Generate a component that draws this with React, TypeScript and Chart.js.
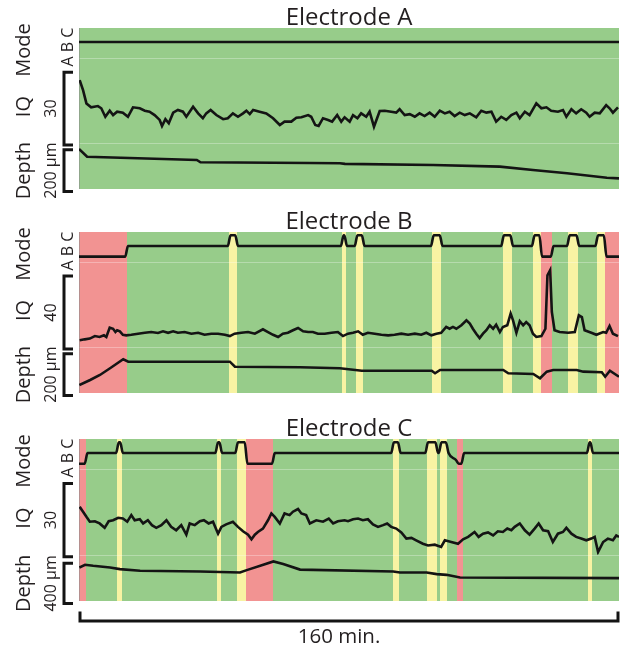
import React, { useEffect, useRef } from 'react';
import { Chart, registerables } from 'chart.js';

Chart.register(...registerables);

// ---------- data ----------
const TOTAL_MINUTES = 160;
const TIME_BAR_LABEL = '160 min.';
const TITLES = ['Electrode A', 'Electrode B', 'Electrode C'];
const TRACK_LABELS = ['Mode', 'IQ', 'Depth'];
const MODE_TICK_LABEL = 'A B C';
const MODE_LEVELS: Record<string, number> = { A: 0, B: 1, C: 2 };
const IQ_SCALE_BARS = [30, 40, 30];
const DEPTH_SCALE_BARS = [200, 200, 400];
const IQ_AXIS_MAX = [35, 46.6, 35];
const DEPTH_AXIS_MAX = [220, 220, 460];

// [start min, end min, mode, optional level at segment end]
const modeSegmentsA: [number, number, string, number?][] = [[0, 160, 'B']];
const modeSegmentsB: [number, number, string, number?][] = [
  [0, 14.1, 'A'], [14.1, 44.5, 'B'], [44.5, 46.7, 'C'], [46.7, 78.0, 'B'], [78.0, 79.0, 'C'],
  [79.0, 82.1, 'B'], [82.1, 84.2, 'C'], [84.2, 104.7, 'B'], [104.7, 107.3, 'C'], [107.3, 125.5, 'B'],
  [125.5, 128.2, 'C'], [128.2, 134.6, 'B'], [134.6, 136.8, 'C'], [136.8, 140.2, 'A'], [140.2, 145.0, 'B'],
  [145.0, 147.8, 'C'], [147.8, 153.4, 'B'], [153.4, 155.9, 'C'], [155.9, 160, 'A'],
];
const modeSegmentsC: [number, number, string, number?][] = [
  [0, 2.1, 'A'], [2.1, 11.4, 'B'], [11.4, 12.6, 'C'], [12.6, 40.8, 'B'], [40.8, 42.0, 'C'],
  [42.0, 46.7, 'B'], [46.7, 49.5, 'C'], [49.5, 57.6, 'A'], [57.6, 92.9, 'B'], [92.9, 94.9, 'C'],
  [94.9, 103.0, 'B'], [103.0, 106.0, 'C'], [106.0, 107.0, 'B'], [107.0, 109.1, 'C'], [109.1, 112.1, 'B', 0.35],
  [112.1, 113.7, 'A'], [113.7, 150.9, 'B'], [150.9, 151.9, 'C'], [151.9, 160, 'B'],
];

// IQ: [minute, value]
const iqA: [number, number][] = [
  [0.2, 25.9], [1.2, 21.8], [2.2, 16.3], [3.6, 14.7], [5.6, 15.2], [6.6, 14.3], [7.8, 10.8], [9.1, 13.3], [10.1, 11.5],
  [11.3, 12.9], [13.0, 12.5], [14.5, 10.8], [16.0, 14.7], [18.0, 14.3], [19.5, 13.3], [20.9, 12.9], [22.4, 11.5],
  [23.9, 9.5], [24.6, 7.0], [25.6, 9.8], [26.6, 8.1], [27.9, 12.5], [29.3, 13.6], [30.8, 12.9], [31.8, 10.8],
  [33.8, 14.9], [35.3, 12.2], [36.7, 10.2], [37.7, 12.2], [39.0, 13.6], [40.7, 11.5], [42.7, 9.8], [44.1, 10.2],
  [45.6, 12.2], [47.1, 10.8], [48.6, 12.2], [49.6, 13.3], [50.6, 11.9], [51.6, 13.6], [53.5, 12.9], [55.5, 12.2],
  [57.5, 10.2], [59.5, 7.4], [60.9, 8.8], [62.9, 8.8], [64.4, 10.4], [65.9, 10.6], [67.9, 11.5], [68.8, 10.8],
  [70.0, 7.4], [71.0, 7.0], [72.3, 10.2], [73.8, 9.5], [75.0, 8.8], [76.5, 11.5], [77.7, 8.8], [78.7, 10.6],
  [80.2, 8.8], [81.2, 11.5], [82.5, 10.2], [83.6, 12.2], [85.1, 10.8], [86.1, 12.9], [87.4, 6.7], [89.1, 13.2],
  [90.6, 13.3], [92.5, 12.9], [94.0, 12.5], [95.0, 13.9], [96.5, 11.5], [98.0, 11.9], [99.5, 10.8], [100.9, 12.2],
  [102.4, 11.1], [103.9, 12.5], [105.4, 10.8], [106.9, 13.3], [108.4, 12.2], [109.8, 12.9], [111.3, 11.1],
  [112.8, 12.5], [114.3, 11.5], [115.8, 12.2], [117.7, 10.6], [119.2, 13.3], [120.7, 12.5], [122.2, 12.9],
  [123.6, 8.8], [125.1, 10.8], [126.6, 9.5], [128.1, 11.5], [129.6, 12.5], [130.6, 10.2], [132.1, 12.9],
  [133.5, 11.5], [135.5, 16.3], [137.0, 14.3], [138.5, 14.7], [139.9, 13.3], [141.9, 12.9], [143.4, 13.6],
  [144.4, 10.8], [145.9, 13.9], [147.3, 12.2], [148.8, 13.9], [150.3, 12.5], [151.3, 10.8], [152.8, 12.5],
  [154.3, 12.2], [156.2, 15.6], [157.2, 14.3], [158.2, 12.5], [159.7, 14.7],
];
const iqB: [number, number][] = [
  [0.2, 3.7], [1.7, 4.2], [3.2, 4.6], [4.7, 6.0], [6.1, 5.5], [7.4, 6.4], [8.1, 5.5], [9.1, 10.6], [10.1, 10.0],
  [10.8, 8.2], [11.3, 9.2], [12.1, 8.6], [13.0, 6.7], [14.0, 6.4], [15.5, 6.7], [17.5, 7.3], [19.5, 7.8], [21.4, 8.2],
  [23.4, 7.7], [24.9, 8.6], [26.4, 7.8], [27.9, 8.6], [29.3, 7.8], [31.3, 8.2], [33.3, 7.3], [35.3, 7.8], [37.2, 6.7],
  [39.2, 7.3], [41.2, 7.3], [43.2, 6.7], [44.7, 6.0], [46.1, 7.3], [48.1, 7.8], [50.1, 8.2], [52.1, 7.3], [54.5, 9.7],
  [56.0, 8.2], [57.5, 6.7], [59.0, 5.5], [60.4, 7.3], [61.9, 7.8], [63.4, 9.2], [64.9, 10.4], [66.4, 8.6], [67.9, 8.2],
  [69.3, 8.2], [70.8, 7.3], [72.8, 7.3], [74.8, 7.8], [76.7, 8.2], [78.2, 6.0], [79.7, 7.3], [81.2, 7.8], [82.7, 8.6],
  [84.1, 6.7], [85.6, 7.8], [87.6, 7.3], [89.6, 6.7], [91.6, 6.4], [93.5, 6.7], [95.5, 7.3], [97.5, 6.7], [99.5, 7.3],
  [101.4, 6.7], [102.9, 7.8], [104.4, 6.4], [105.9, 7.3], [107.3, 7.8], [108.8, 11.0], [109.8, 10.0], [110.8, 11.0],
  [111.8, 10.0], [113.3, 11.9], [114.8, 14.6], [115.8, 12.8], [116.7, 10.0], [117.7, 7.3], [118.7, 4.9], [119.7, 7.3],
  [120.7, 9.2], [121.7, 11.9], [122.7, 10.0], [123.6, 12.2], [124.7, 8.2], [125.6, 11.0], [126.9, 11.9], [127.9, 18.3],
  [128.6, 14.6], [129.6, 7.8], [130.6, 14.1], [131.6, 11.9], [132.5, 13.7], [133.5, 11.9], [134.5, 7.3], [135.5, 5.5],
  [137.0, 6.0], [138.2, 10.0], [138.8, 39.3], [139.6, 42.1], [140.1, 19.2], [140.9, 9.2], [142.4, 8.2], [144.9, 7.8],
  [146.9, 8.2], [148.1, 17.4], [149.0, 16.4], [149.8, 9.2], [151.8, 7.8], [153.3, 6.7], [155.3, 8.2], [156.2, 7.8],
  [157.2, 11.5], [158.2, 7.3], [159.7, 6.0],
];
const iqC: [number, number][] = [
  [0.2, 19.6], [1.2, 17.6], [2.2, 15.5], [3.2, 13.5], [4.7, 13.7], [6.1, 12.8], [7.6, 11.0], [8.8, 13.7], [10.1, 14.1],
  [11.6, 15.1], [13.0, 14.8], [14.3, 13.5], [15.5, 16.2], [16.5, 14.1], [18.0, 14.5], [19.0, 12.8], [20.4, 14.1],
  [21.6, 12.1], [22.9, 11.0], [24.4, 12.1], [25.9, 14.1], [27.3, 11.4], [28.8, 10.0], [30.3, 12.1], [31.8, 8.2],
  [32.8, 12.8], [34.3, 12.1], [35.8, 13.7], [37.0, 14.1], [38.4, 12.8], [39.7, 13.5], [41.2, 8.6], [42.2, 11.4],
  [43.6, 12.4], [45.6, 13.5], [47.1, 11.4], [48.6, 9.6], [50.1, 8.2], [51.1, 6.3], [52.1, 8.2], [53.0, 9.3],
  [54.5, 10.7], [56.0, 14.1], [57.0, 16.9], [58.0, 15.5], [59.5, 12.8], [60.9, 16.9], [62.4, 16.2], [63.4, 17.6],
  [64.9, 18.7], [65.9, 16.9], [67.3, 16.2], [68.4, 12.8], [70.3, 14.1], [72.3, 13.5], [74.0, 14.8], [75.3, 12.8],
  [76.7, 13.7], [78.7, 14.1], [79.7, 13.7], [81.2, 14.5], [82.7, 14.8], [84.1, 14.1], [85.6, 14.5], [87.1, 12.4],
  [88.6, 11.4], [90.1, 12.1], [91.3, 12.8], [92.5, 11.4], [94.0, 10.7], [95.5, 9.1], [97.0, 6.6], [98.5, 6.9],
  [99.9, 5.9], [101.9, 4.5], [103.4, 3.8], [105.4, 4.1], [107.3, 3.2], [108.4, 5.9], [110.3, 5.2], [112.3, 4.5],
  [113.8, 6.3], [115.3, 7.3], [117.2, 9.3], [118.4, 7.3], [119.7, 8.6], [121.2, 9.1], [122.7, 7.9], [124.1, 9.6],
  [125.6, 9.3], [126.9, 10.7], [128.1, 10.0], [129.1, 11.4], [130.6, 12.8], [132.1, 10.0], [133.5, 8.2], [135.0, 10.7],
  [136.2, 12.8], [137.5, 10.0], [139.0, 9.6], [140.4, 5.2], [141.9, 8.6], [143.4, 9.3], [144.4, 11.0], [145.9, 8.6],
  [147.3, 7.3], [148.8, 6.6], [150.3, 5.9], [151.8, 6.6], [152.8, 7.3], [153.8, 1.1], [155.3, 5.2], [156.7, 6.6],
  [158.2, 5.9], [159.2, 7.9], [160, 7.3],
];

// Depth (µm): [minute, value]
const depthA: [number, number][] = [
  [0, 28.7], [2.4, 65.5], [34.9, 81.3], [36.0, 92.3], [68.4, 95.6], [77.3, 97], [78.8, 100], [104.9, 105],
  [124.7, 113], [134.5, 129], [144.6, 145], [156.4, 166], [160, 169],
];
const depthB: [number, number][] = [
  [0.1, 181.6], [3.3, 157.7], [6.2, 133.8], [9.2, 101.8], [13.1, 58.8], [14.6, 70.3], [44.7, 70.3], [46.2, 94.2],
  [65.5, 97], [77.3, 101.8], [83.8, 113.3], [104.5, 113.3], [105.5, 125.7], [107.0, 110], [125.7, 110],
  [127.2, 125.7], [134.6, 129], [136.6, 149.6], [138.6, 118], [140.5, 110], [147.5, 110], [149.4, 118],
  [154.9, 121], [155.9, 142], [157.3, 113.3], [160, 142],
];
const depthC: [number, number][] = [
  [0.1, 127], [1.8, 100], [4.2, 110], [9.2, 127], [12.1, 143], [18.1, 160], [35.9, 167], [47.7, 177], [49.7, 153],
  [54.6, 100], [57.6, 67], [60.5, 93], [65.5, 148], [93.1, 167], [95.1, 177], [103.0, 177], [106.0, 193],
  [108.9, 200], [112.9, 227], [160, 233],
];

// ---------- styles ----------
const BAND_COLORS: Record<string, string> = { A: '#f29392', B: '#97cc8a', C: '#f8f3a3' };
const LINE = '#141414';
const TEXT = '#231f20';
const FONT = '"Open Sans", "Noto Sans", sans-serif';

type Seg = [number, number, string, number?];

function modeLine(segs: Seg[]) {
  const d = 0.4;
  const pts: { x: number; y: number }[] = [];
  segs.forEach((seg, i) => {
    const [s, e, m, endLv] = seg;
    const lv = MODE_LEVELS[m];
    pts.push({ x: i === 0 ? s : s + d, y: lv });
    pts.push({ x: i === segs.length - 1 ? e : e - d, y: endLv ?? lv });
  });
  return pts;
}

const toXY = (arr: [number, number][]) => arr.map(([x, y]) => ({ x, y }));

interface PanelDef {
  idx: number;
  top: number;
  height: number;
  padTop: number;
  padBottom: number;
  segs: Seg[];
  iq: [number, number][];
  depth: [number, number][];
  timeBar: boolean;
}

const PANELS: PanelDef[] = [
  { idx: 0, top: 0, height: 202, padTop: 28, padBottom: 13, segs: modeSegmentsA, iq: iqA, depth: depthA, timeBar: false },
  { idx: 1, top: 202, height: 208, padTop: 30, padBottom: 17, segs: modeSegmentsB, iq: iqB, depth: depthB, timeBar: false },
  { idx: 2, top: 410, height: 240, padTop: 29, padBottom: 49, segs: modeSegmentsC, iq: iqC, depth: depthC, timeBar: true },
];

function Panel({ def }: { def: PanelDef }) {
  const ref = useRef<HTMLCanvasElement | null>(null);
  useEffect(() => {
    if (!ref.current) return;
    const i = def.idx;

    const bands = {
      id: 'bands',
      beforeDatasetsDraw(chart: any) {
        const { ctx, chartArea: a, scales } = chart;
        const x = scales.x;
        ctx.save();
        for (const [s, e, m] of def.segs) {
          const x0 = Math.round(x.getPixelForValue(s));
          const x1 = Math.round(x.getPixelForValue(e));
          ctx.fillStyle = BAND_COLORS[m];
          ctx.fillRect(x0, a.top, x1 - x0, a.bottom - a.top);
        }
        ctx.strokeStyle = 'rgba(255,255,255,0.3)';
        ctx.lineWidth = 1;
        for (const y of [scales.yIQ.top, scales.yDepth.top]) {
          ctx.beginPath();
          ctx.moveTo(a.left, Math.round(y) + 0.5);
          ctx.lineTo(a.right, Math.round(y) + 0.5);
          ctx.stroke();
        }
        ctx.strokeStyle = 'rgba(140,140,140,0.6)';
        ctx.beginPath();
        ctx.moveTo(a.left + 0.5, a.top);
        ctx.lineTo(a.left + 0.5, a.bottom);
        ctx.stroke();
        ctx.restore();
      },
    };

    const bracket = (ctx: CanvasRenderingContext2D, x: number, top: number, bottom: number) => {
      ctx.beginPath();
      ctx.moveTo(x + 9, top);
      ctx.lineTo(x, top);
      ctx.lineTo(x, bottom);
      ctx.lineTo(x + 9, bottom);
      ctx.stroke();
    };

    const vText = (ctx: CanvasRenderingContext2D, text: string, x: number, y: number) => {
      ctx.save();
      ctx.translate(x, y);
      ctx.rotate(-Math.PI / 2);
      ctx.textAlign = 'center';
      ctx.textBaseline = 'alphabetic';
      ctx.fillText(text, 0, 0);
      ctx.restore();
    };

    const labels = {
      id: 'labels',
      afterDraw(chart: any) {
        const { ctx, chartArea: a, scales } = chart;
        ctx.save();
        ctx.fillStyle = TEXT;
        ctx.strokeStyle = LINE;
        ctx.lineWidth = 3;
        ctx.lineJoin = 'miter';
        ctx.lineCap = 'butt';
        // title
        ctx.font = `24px ${FONT}`;
        ctx.textAlign = 'center';
        ctx.textBaseline = 'alphabetic';
        ctx.fillText(TITLES[i], (a.left + a.right) / 2, a.top - 3);

        const bx = a.left - 15;
        // IQ bracket
        const iqS = scales.yIQ;
        const iqBottom = iqS.getPixelForValue(iqS.min) + 2;
        const iqTop = iqBottom - Math.abs(iqS.getPixelForValue(0) - iqS.getPixelForValue(IQ_SCALE_BARS[i]));
        bracket(ctx, bx, iqTop, iqBottom);
        // Depth bracket
        const dS = scales.yDepth;
        const dBottom = dS.getPixelForValue(dS.max) + 2.5;
        const dTop = dBottom - Math.abs(dS.getPixelForValue(DEPTH_SCALE_BARS[i]) - dS.getPixelForValue(0));
        bracket(ctx, bx, dTop, dBottom);

        // track labels
        ctx.font = `20px ${FONT}`;
        vText(ctx, TRACK_LABELS[0], 30, a.top + 22);
        vText(ctx, TRACK_LABELS[1], 30, (iqTop + iqBottom) / 2 - 2);
        vText(ctx, TRACK_LABELS[2], 30, (dTop + dBottom) / 2);
        // tick labels
        ctx.font = `16px ${FONT}`;
        vText(ctx, MODE_TICK_LABEL, 72.5, a.top + 19);
        vText(ctx, String(IQ_SCALE_BARS[i]), 55.5, (iqTop + iqBottom) / 2);
        vText(ctx, `${DEPTH_SCALE_BARS[i]} µm`, 55.5, (dTop + dBottom) / 2);

        if (def.timeBar) {
          const y = a.bottom + 20;
          ctx.beginPath();
          ctx.moveTo(a.left + 1, y - 9.5);
          ctx.lineTo(a.left + 1, y);
          ctx.lineTo(a.right - 1, y);
          ctx.lineTo(a.right - 1, y - 9.5);
          ctx.stroke();
          ctx.font = `20.5px ${FONT}`;
          ctx.textAlign = 'center';
          ctx.fillText(TIME_BAR_LABEL, (a.left + a.right) / 2 - 10, y + 22);
        }
        ctx.restore();
      },
    };

    const lineDs = (data: any[], axis: string, extra: any = {}) => ({
      data,
      yAxisID: axis,
      borderColor: LINE,
      borderWidth: 2.6,
      pointRadius: 0,
      fill: false,
      tension: 0,
      ...extra,
    });

    const chart = new Chart(ref.current, {
      type: 'line',
      data: {
        datasets: [
          lineDs(modeLine(def.segs), 'yMode', { cubicInterpolationMode: 'monotone' }),
          lineDs(toXY(def.iq), 'yIQ'),
          lineDs(toXY(def.depth), 'yDepth'),
        ],
      },
      options: {
        responsive: false,
        animation: false,
        events: [],
        layout: { padding: { left: 79, right: 8, top: def.padTop, bottom: def.padBottom } },
        plugins: { legend: { display: false }, tooltip: { enabled: false }, title: { display: false } },
        scales: {
          x: { type: 'linear', min: 0, max: TOTAL_MINUTES, display: false },
          // stacked left axes are placed from the last-defined (top) to the first-defined (bottom)
          yDepth: { type: 'linear', position: 'left', stack: 'tracks', stackWeight: 46, min: 0, max: DEPTH_AXIS_MAX[i], reverse: true, display: false },
          yIQ: { type: 'linear', position: 'left', stack: 'tracks', stackWeight: 85, min: 0, max: IQ_AXIS_MAX[i], display: false },
          yMode: { type: 'linear', position: 'left', stack: 'tracks', stackWeight: 30, min: -0.5, max: 2.3, display: false },
        },
      } as any,
      plugins: [bands, labels],
    });
    return () => chart.destroy();
  }, [def]);

  return (
    <canvas
      ref={ref}
      width={627}
      height={def.height}
      style={{ position: 'absolute', left: 0, top: def.top, width: 627, height: def.height }}
    />
  );
}

export default function App() {
  return (
    <div style={{ position: 'absolute', left: 0, top: 0, width: 627, height: 650, background: '#fff' }}>
      {PANELS.map((p) => (
        <Panel key={p.idx} def={p} />
      ))}
    </div>
  );
}
